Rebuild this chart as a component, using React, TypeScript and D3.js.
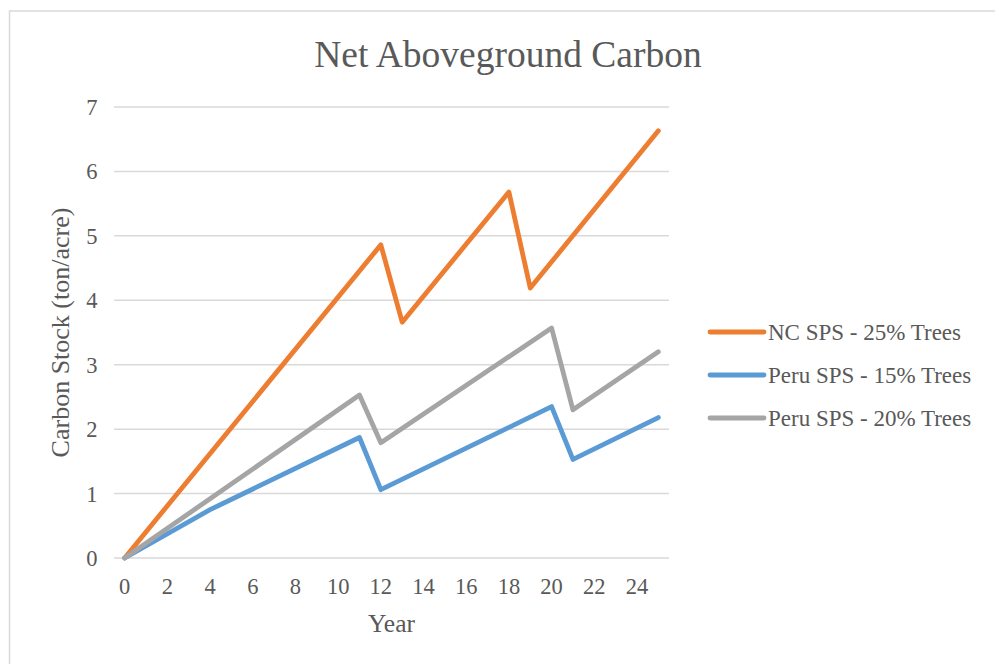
import React from "react";
import * as d3 from "d3";

const years: number[] = d3.range(0, 26);
const xTickYears: number[] = [0, 2, 4, 6, 8, 10, 12, 14, 16, 18, 20, 22, 24];
const yTicks: number[] = [0, 1, 2, 3, 4, 5, 6, 7];

const seriesNames: string[] = ["NC SPS - 25% Trees", "Peru SPS - 15% Trees", "Peru SPS - 20% Trees"];
const seriesColors: string[] = ["#ED7D31", "#5B9BD5", "#A5A5A5"];

const ncYears: number[] = [0, 12, 13, 18, 19, 25];
const ncValues: number[] = [0, 4.86, 3.66, 5.68, 4.19, 6.63];

const peru15Years: number[] = [0, 4, 11, 12, 20, 21, 25];
const peru15Values: number[] = [0, 0.75, 1.87, 1.06, 2.35, 1.53, 2.18];

const peru20Years: number[] = [0, 11, 12, 20, 21, 25];
const peru20Values: number[] = [0, 2.53, 1.79, 3.57, 2.3, 3.2];

const title = "Net Aboveground Carbon";
const xTitle = "Year";
const yTitle = "Carbon Stock (ton/acre)";

export default function App() {
  const W = 995;
  const H = 664;
  const left = 114;
  const right = 669;
  const top = 107;
  const bottom = 558;
  const font = "Liberation Serif, DejaVu Serif, serif";
  const textColor = "#595959";

  const xBand = d3.scaleBand<number>().domain(years).range([left, right]).paddingInner(0).paddingOuter(0);
  const x = (v: number) => (xBand(v) as number) + xBand.bandwidth() / 2;
  const y = d3.scaleLinear().domain([0, 7]).range([bottom, top]);

  const series = [
    { name: seriesNames[0], color: seriesColors[0], xs: ncYears, ys: ncValues },
    { name: seriesNames[1], color: seriesColors[1], xs: peru15Years, ys: peru15Values },
    { name: seriesNames[2], color: seriesColors[2], xs: peru20Years, ys: peru20Values },
  ];

  const line = d3
    .line<[number, number]>()
    .x((d) => x(d[0]))
    .y((d) => y(d[1]));

  const legendX1 = 710;
  const legendX2 = 764;
  const legendY0 = 332;
  const legendStep = 43;

  const ts = (size: number): React.CSSProperties => ({ fontFamily: font, fontSize: size + "px" });

  return (
    <svg
      width={W}
      height={H}
      style={{ position: "absolute", left: 0, top: 0, display: "block", background: "#fff" }}
    >
      <rect x={9.5} y={11} width={W + 10} height={H + 10} fill="#fff" stroke="#d9d9d9" strokeWidth={1.5} />
      <text x={508} y={67} textAnchor="middle" style={ts(37.5)} fill={textColor}>
        {title}
      </text>
      {yTicks.map((t) => (
        <g key={"y" + t}>
          <line x1={left} x2={right} y1={y(t)} y2={y(t)} stroke="#d9d9d9" strokeWidth={1.5} />
          <text x={97.5} y={y(t) + 8} textAnchor="end" style={ts(22.5)} fill={textColor}>
            {t}
          </text>
        </g>
      ))}
      {xTickYears.map((t) => (
        <text key={"x" + t} x={x(t)} y={594} textAnchor="middle" style={ts(22.5)} fill={textColor}>
          {t}
        </text>
      ))}
      <text x={(left + right) / 2} y={632} textAnchor="middle" style={ts(25.5)} fill={textColor}>
        {xTitle}
      </text>
      <text
        transform={`translate(69, ${(top + bottom) / 2}) rotate(-90)`}
        textAnchor="middle"
        style={ts(26)}
        fill={textColor}
      >
        {yTitle}
      </text>
      {series.map((s) => (
        <path
          key={s.name}
          d={line(s.xs.map((v, i) => [v, s.ys[i]] as [number, number])) || ""}
          fill="none"
          stroke={s.color}
          strokeWidth={4.8}
          strokeLinecap="round"
          strokeLinejoin="round"
        />
      ))}
      {series.map((s, i) => (
        <g key={"lg" + i}>
          <line
            x1={legendX1}
            x2={legendX2}
            y1={legendY0 + i * legendStep}
            y2={legendY0 + i * legendStep}
            stroke={s.color}
            strokeWidth={4.8}
            strokeLinecap="round"
          />
          <text x={768} y={legendY0 + i * legendStep + 7.5} style={ts(23)} fill={textColor}>
            {s.name}
          </text>
        </g>
      ))}
    </svg>
  );
}
